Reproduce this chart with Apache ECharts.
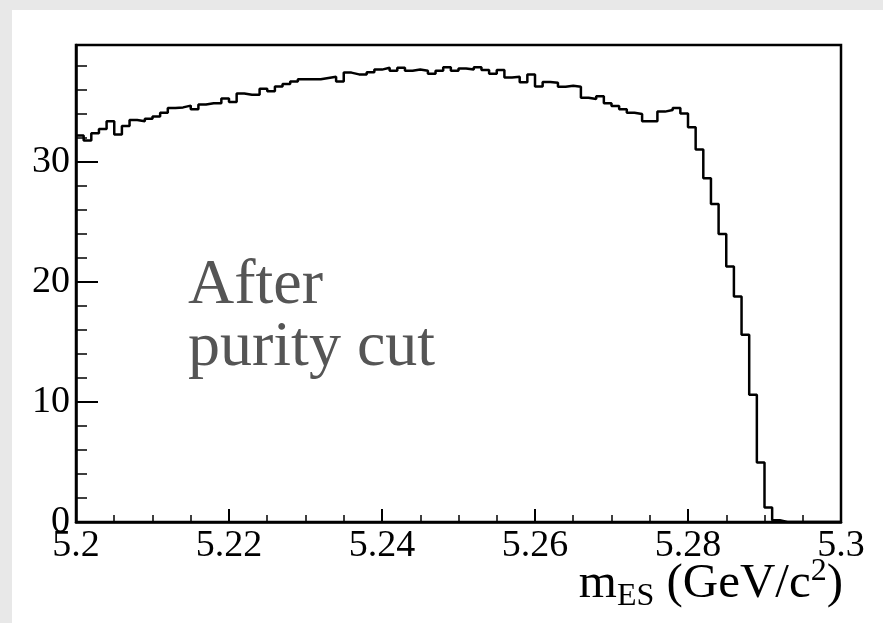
<!DOCTYPE html>
<html>
<head>
<meta charset="utf-8">
<script src="https://cdn.jsdelivr.net/npm/echarts@6/dist/echarts.min.js"></script>
<style>html,body{margin:0;padding:0;background:#e6e6e6;}#c{width:883px;height:623px;}</style>
</head>
<body>
<div id="c"></div>
<script>
// Histogram: m_ES, 100 bins from 5.2 to 5.3 GeV/c^2
const binLow = 5.2;
const binHigh = 5.3;
const nBins = 100;
const counts = [
  32.2, 31.8, 32.4, 32.75, 33.4, 32.3, 33.0, 33.5, 33.4, 33.6,
  33.8, 34.1, 34.5, 34.55, 34.7, 34.4, 34.8, 34.9, 34.9, 35.3,
  35.0, 35.7, 35.6, 35.6, 36.1, 35.9, 36.3, 36.5, 36.7, 36.9,
  36.9, 36.9, 37.0, 37.1, 36.7, 37.45, 37.3, 37.3, 37.47, 37.7,
  37.86, 37.6, 37.86, 37.6, 37.7, 37.6, 37.36, 37.6, 37.9, 37.6,
  37.8, 37.7, 37.9, 37.67, 37.36, 37.67, 37.05, 37.1, 36.64, 37.3,
  36.3, 36.67, 36.6, 36.28, 36.36, 36.28, 35.36, 35.25, 35.47, 34.9,
  34.67, 34.4, 34.1, 34.0, 33.4, 33.4, 34.2, 34.33, 34.5, 34.05,
  32.9, 31.05, 28.64, 26.5, 24.0, 21.3, 18.8, 15.6, 10.6, 4.95,
  1.2, 0.15, 0, 0, 0, 0, 0, 0, 0, 0
];
const xTicks = [5.2, 5.22, 5.24, 5.26, 5.28, 5.3];
const yTicks = [0, 10, 20, 30];
const yMax = 39.75;
const annotation = ['After', 'purity cut'];

const binWidth = (binHigh - binLow) / nBins;
const stepData = counts.map((v, i) => [binLow + i * binWidth, v]);
stepData.push([binHigh, counts[counts.length - 1]]);

const serif = '"Liberation Serif", "DejaVu Serif", serif';
const chart = echarts.init(document.getElementById('c'), null, {renderer: 'canvas'});
chart.setOption({
  animation: false,
  backgroundColor: '#e8e8e8',
  graphic: [
    {type: 'rect', z: -10, shape: {x: 12, y: 10, width: 871, height: 613}, style: {fill: '#ffffff'}},
    {type: 'text', z: 10, left: 188, top: 254,
     style: {text: annotation.join('\n'), font: '64px ' + serif, fill: '#555555', lineHeight: 62}},
    {type: 'text', z: 10, right: 40, top: 556,
     style: {
       text: '{m|m}{sub|ES}{m| (GeV/c}{sup|2}{m|)}',
       fill: '#000',
       rich: {
         m: {fontFamily: serif, fontSize: 49, color: '#000'},
         sub: {fontFamily: serif, fontSize: 32, color: '#000', padding: [26, 0, 0, 0]},
         sup: {fontFamily: serif, fontSize: 32, color: '#000', padding: [0, 0, 24, 0]}
       }
     }}
  ],
  grid: {left: 76, right: 42, top: 45, bottom: 101, show: true, borderColor: '#000', borderWidth: 2.5, backgroundColor: '#fff'},
  xAxis: {
    type: 'value', min: binLow, max: binHigh, interval: 0.02,
    axisLine: {show: true, onZero: false, lineStyle: {color: '#000', width: 2.5}},
    axisTick: {show: true, inside: true, length: 13, lineStyle: {color: '#000', width: 2}},
    minorTick: {show: true, splitNumber: 4, length: 7, lineStyle: {color: '#000', width: 1.5}},
    splitLine: {show: false},
    axisLabel: {
      fontFamily: serif, fontSize: 38, color: '#000', margin: 5,
      formatter: v => {
        const m = xTicks.find(t => Math.abs(t - v) < 1e-6);
        return m === undefined ? '' : String(m);
      }
    }
  },
  yAxis: [
    {
      type: 'value', min: 0, max: yMax, interval: 10,
      axisLine: {show: true, lineStyle: {color: '#000', width: 2.5}},
      axisTick: {show: true, inside: true, length: 22, lineStyle: {color: '#000', width: 2}},
      splitLine: {show: false},
      axisLabel: {
        fontFamily: serif, fontSize: 38, color: '#000', margin: 6, showMaxLabel: false,
        formatter: v => {
          const m = yTicks.find(t => Math.abs(t - v) < 1e-6);
          return m === undefined ? '' : String(m);
        }
      }
    },
    {
      type: 'value', min: 0, max: yMax, interval: 2, position: 'left', offset: 0,
      axisLine: {show: false},
      axisTick: {show: true, inside: true, length: 11, lineStyle: {color: '#000', width: 1.5}},
      axisLabel: {show: false},
      splitLine: {show: false}
    }
  ],
  series: [{
    type: 'line', step: 'end', yAxisIndex: 0, symbol: 'none',
    lineStyle: {color: '#000', width: 2.5},
    data: stepData
  }]
});
</script>
</body>
</html>
